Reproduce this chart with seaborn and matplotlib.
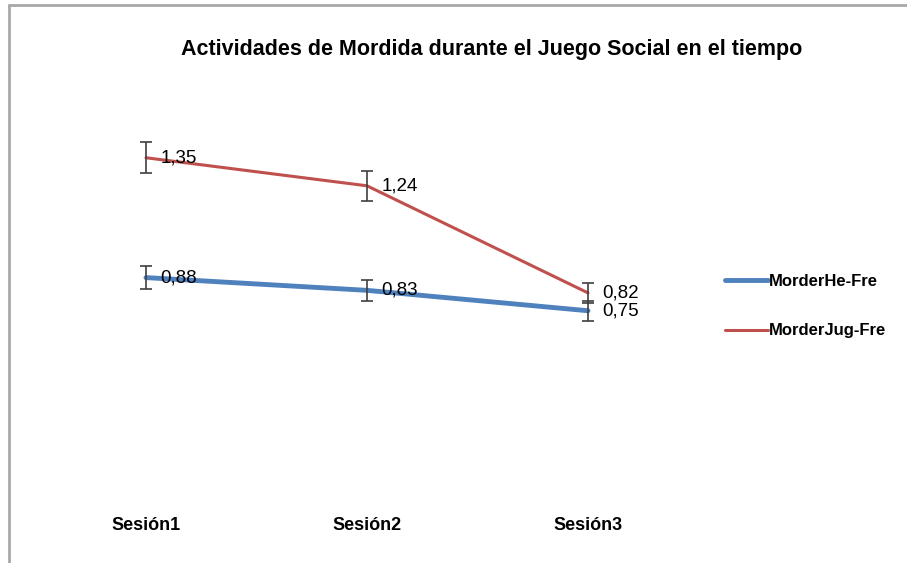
import matplotlib
matplotlib.use("Agg")
import matplotlib.pyplot as plt
import seaborn as sns
import pandas as pd
from matplotlib.lines import Line2D

sessions = ["Sesión1", "Sesión2", "Sesión3"]
series_names = ["MorderHe-Fre", "MorderJug-Fre"]
he_values = [0.88, 0.83, 0.75]
jug_values = [1.35, 1.24, 0.82]
he_err = [0.045, 0.04, 0.04]
jug_err = [0.06, 0.06, 0.04]
title = "Actividades de Mordida durante el Juego Social en el tiempo"

colors = {"MorderHe-Fre": "#4F81BD", "MorderJug-Fre": "#C0504D"}
widths = {"MorderHe-Fre": 3.5, "MorderJug-Fre": 2.2}

df = pd.DataFrame({
    "session": sessions * 2,
    "value": he_values + jug_values,
    "err": he_err + jug_err,
    "series": [series_names[0]] * 3 + [series_names[1]] * 3,
})

sns.set_theme(style="white")
plt.rcParams["font.family"] = ["Liberation Sans", "DejaVu Sans"]
plt.rcParams["text.color"] = "black"
plt.rcParams["xtick.color"] = "black"

W, H = 907, 563
fig = plt.figure(figsize=(W / 100, H / 100), dpi=100)
ax = fig.add_axes([35.5 / W, 1 - 502 / H, 663 / W, 408 / H])

for name in series_names:
    sub = df[df["series"] == name]
    sns.lineplot(data=sub, x="session", y="value", ax=ax, color=colors[name],
                 linewidth=widths[name], legend=False, sort=False)
    ax.errorbar(range(len(sub)), sub["value"], yerr=sub["err"], fmt="none",
                ecolor="#404040", elinewidth=1.2, capsize=4, capthick=1.2, zorder=5)

# data labels
for name in series_names:
    sub = df[df["series"] == name].reset_index(drop=True)
    for i, row in sub.iterrows():
        ax.text(i + 0.065, row["value"], f"{row['value']:.2f}".replace(".", ","),
                ha="left", va="center", fontsize=13.5, color="black", zorder=6)

ax.set_xlim(-0.5, 2.5)
ax.set_ylim(0, 1.6)
ax.set_yticks([])
ax.set_xlabel("")
ax.set_ylabel("")
for s in ax.spines.values():
    s.set_visible(False)
ax.tick_params(axis="x", length=0, pad=11)
for lab in ax.get_xticklabels():
    lab.set_fontweight("bold")
    lab.set_fontsize(13)
    lab.set_color("black")

fig.text(492 / W, 1 - 49 / H, title, ha="center", va="center",
         fontsize=15.5, fontweight="bold", color="black")

handles = [Line2D([0], [0], color=colors[n], linewidth=widths[n]) for n in series_names]
leg = fig.legend(handles, series_names, loc="center left",
                 bbox_to_anchor=(710 / W, 1 - 306 / H), frameon=False,
                 prop={"weight": "bold", "size": 12.0}, handlelength=2.6,
                 handletextpad=0.05, labelspacing=2.1)
for t in leg.get_texts():
    t.set_color("black")

# chart border (top and left visible)
fig.add_artist(Line2D([9 / W, 1], [1 - 5 / H, 1 - 5 / H], color="#A8A8A8", linewidth=2,
                      transform=fig.transFigure))
fig.add_artist(Line2D([9 / W, 9 / W], [0, 1 - 5 / H], color="#A8A8A8", linewidth=2,
                      transform=fig.transFigure))

fig.savefig("out.png", dpi=100)
